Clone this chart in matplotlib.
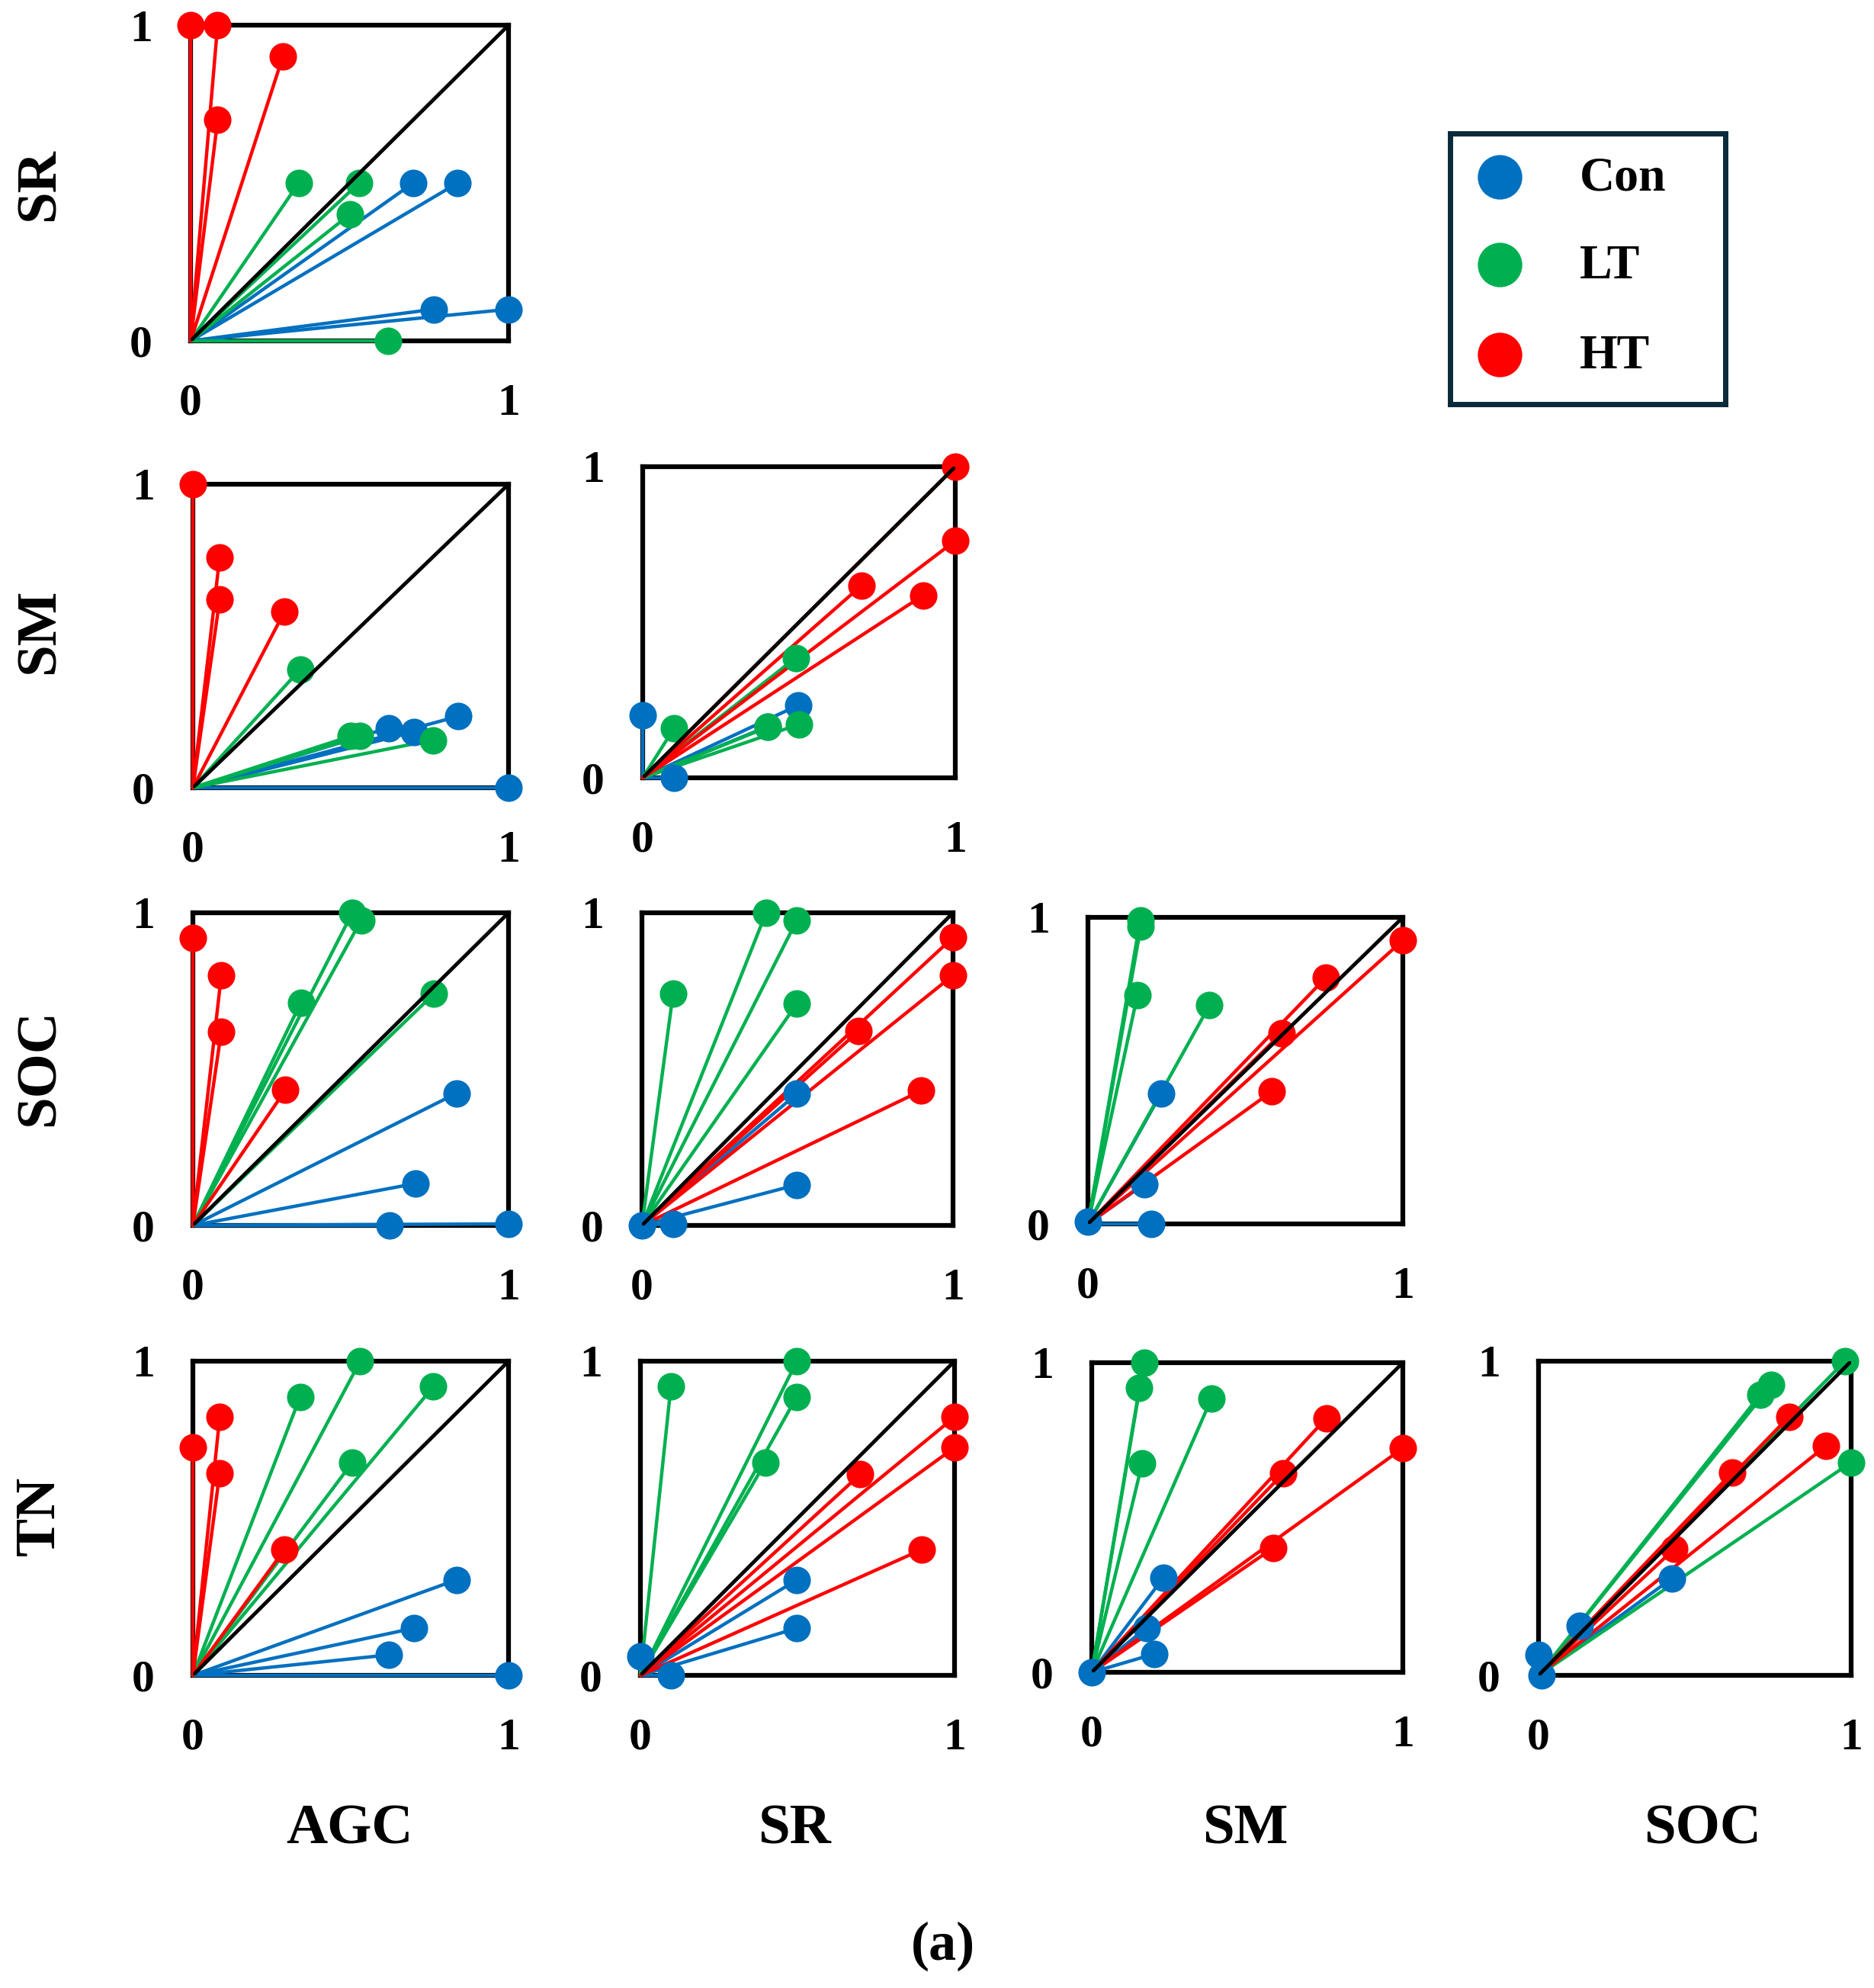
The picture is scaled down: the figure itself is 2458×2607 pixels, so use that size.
import matplotlib
matplotlib.use("Agg")
import matplotlib.pyplot as plt

# ---------------- data (x, y) per panel and treatment ----------------
variables = ["AGC", "SR", "SM", "SOC", "TN"]
treatments = ["Con", "LT", "HT"]
colors = {"Con": "#0070C0", "LT": "#00B050", "HT": "#FF0000"}

# SR vs AGC
sr_agc_con = [(0.70, 0.50), (0.84, 0.50), (0.765, 0.10), (1.0, 0.10)]
sr_agc_lt = [(0.34, 0.50), (0.53, 0.50), (0.50, 0.40), (0.62, 0.0)]
sr_agc_ht = [(0.0, 1.0), (0.085, 1.0), (0.085, 0.70), (0.29, 0.90)]

# SM vs AGC
sm_agc_con = [(0.62, 0.197), (0.70, 0.184), (0.84, 0.235), (1.0, 0.0)]
sm_agc_lt = [(0.34, 0.39), (0.50, 0.17), (0.53, 0.17), (0.76, 0.157)]
sm_agc_ht = [(0.0, 1.0), (0.085, 0.76), (0.085, 0.62), (0.29, 0.58)]

# SM vs SR
sm_sr_con = [(0.0, 0.20), (0.10, 0.0), (0.497, 0.233), (0.40, 0.165)]
sm_sr_lt = [(0.49, 0.386), (0.10, 0.159), (0.40, 0.163), (0.50, 0.172)]
sm_sr_ht = [(1.0, 1.0), (1.0, 0.762), (0.70, 0.618), (0.898, 0.587)]

# SOC vs AGC
soc_agc_con = [(0.836, 0.423), (0.705, 0.134), (0.622, 0.0), (1.0, 0.005)]
soc_agc_lt = [(0.505, 1.0), (0.533, 0.976), (0.342, 0.713), (0.764, 0.741)]
soc_agc_ht = [(0.0, 0.92), (0.09, 0.80), (0.09, 0.62), (0.293, 0.433)]

# SOC vs SR
soc_sr_con = [(0.498, 0.421), (0.498, 0.13), (0.0, 0.0), (0.10, 0.005)]
soc_sr_lt = [(0.10, 0.741), (0.399, 1.0), (0.498, 0.976), (0.498, 0.709)]
soc_sr_ht = [(1.0, 0.921), (1.0, 0.80), (0.697, 0.622), (0.898, 0.431)]

# SOC vs SM
soc_sm_con = [(0.232, 0.425), (0.178, 0.129), (0.0, 0.008), (0.20, 0.0)]
soc_sm_lt = [(0.166, 0.99), (0.168, 0.97), (0.157, 0.746), (0.386, 0.713)]
soc_sm_ht = [(1.0, 0.925), (0.756, 0.804), (0.614, 0.621), (0.584, 0.432)]

# TN vs AGC
tn_agc_con = [(0.835, 0.304), (0.70, 0.15), (0.62, 0.065), (1.0, 0.0)]
tn_agc_lt = [(0.34, 0.887), (0.53, 1.0), (0.504, 0.676), (0.762, 0.919)]
tn_agc_ht = [(0.0, 0.725), (0.085, 0.822), (0.085, 0.644), (0.29, 0.40)]

# TN vs SR
tn_sr_con = [(0.498, 0.304), (0.498, 0.15), (0.0, 0.06), (0.097, 0.0)]
tn_sr_lt = [(0.097, 0.919), (0.498, 1.0), (0.498, 0.887), (0.397, 0.676)]
tn_sr_ht = [(1.0, 0.822), (1.0, 0.725), (0.70, 0.64), (0.895, 0.40)]

# TN vs SM
tn_sm_con = [(0.23, 0.305), (0.176, 0.144), (0.20, 0.059), (0.0, 0.0)]
tn_sm_lt = [(0.168, 1.0), (0.153, 0.918), (0.162, 0.675), (0.385, 0.885)]
tn_sm_ht = [(0.754, 0.821), (0.615, 0.642), (1.0, 0.724), (0.584, 0.402)]

# TN vs SOC
tn_soc_con = [(0.426, 0.308), (0.131, 0.158), (0.0, 0.065), (0.01, 0.0)]
tn_soc_lt = [(0.98, 1.0), (0.745, 0.925), (0.709, 0.893), (1.0, 0.678)]
tn_soc_ht = [(0.802, 0.824), (0.919, 0.73), (0.62, 0.646), (0.434, 0.402)]

tick_values = [0, 1]
tick_labels = ["0", "1"]

# ---------------- layout ----------------
W, H = 2458, 2607
fig = plt.figure(figsize=(W / 100, H / 100), dpi=100)
fig.patch.set_facecolor("white")

FONT = "Liberation Serif"

panels = [
    # (row var, col var, con, lt, ht, (left, top, right, bottom) px)
    ("SR", "AGC", sr_agc_con, sr_agc_lt, sr_agc_ht, (250, 33, 667, 447)),
    ("SM", "AGC", sm_agc_con, sm_agc_lt, sm_agc_ht, (253, 635, 667, 1033)),
    ("SM", "SR", sm_sr_con, sm_sr_lt, sm_sr_ht, (843, 612, 1253, 1020)),
    ("SOC", "AGC", soc_agc_con, soc_agc_lt, soc_agc_ht, (253, 1197, 667, 1607)),
    ("SOC", "SR", soc_sr_con, soc_sr_lt, soc_sr_ht, (842, 1197, 1250, 1607)),
    ("SOC", "SM", soc_sm_con, soc_sm_lt, soc_sm_ht, (1427, 1203, 1840, 1605)),
    ("TN", "AGC", tn_agc_con, tn_agc_lt, tn_agc_ht, (253, 1785, 667, 2197)),
    ("TN", "SR", tn_sr_con, tn_sr_lt, tn_sr_ht, (840, 1785, 1252, 2197)),
    ("TN", "SM", tn_sm_con, tn_sm_lt, tn_sm_ht, (1432, 1787, 1840, 2193)),
    ("TN", "SOC", tn_soc_con, tn_soc_lt, tn_soc_ht, (2018, 1785, 2428, 2197)),
]

for rv, cv, con, lt, ht, (l, t, r, b) in panels:
    ax = fig.add_axes([l / W, 1 - b / H, (r - l) / W, (b - t) / H])
    ax.set_xlim(0, 1)
    ax.set_ylim(0, 1)
    for s in ax.spines.values():
        s.set_linewidth(4.5)
        s.set_color("black")
        s.set_zorder(1)
    for name, pts in (("Con", con), ("LT", lt), ("HT", ht)):
        for x, y in pts:
            ax.plot([0, x], [0, y], color=colors[name], lw=3.2,
                    solid_capstyle="round", zorder=2, clip_on=False)
    for name, pts in (("Con", con), ("LT", lt), ("HT", ht)):
        xs = [p[0] for p in pts]
        ys = [p[1] for p in pts]
        ax.plot(xs, ys, linestyle="none", marker="o", ms=26,
                color=colors[name], mec="none", zorder=3, clip_on=False)
    ax.plot([0, 1], [0, 1], color="black", lw=3.5, zorder=4)
    ax.set_xticks(tick_values)
    ax.set_xticklabels(tick_labels)
    ax.set_yticks(tick_values)
    ax.set_yticklabels(tick_labels)
    ax.tick_params(length=0, labelsize=43, pad=36)
    ax.tick_params(axis="x", pad=40)
    for lab in ax.get_xticklabels() + ax.get_yticklabels():
        lab.set_fontfamily(FONT)
        lab.set_fontweight("bold")

# row labels
row_label_pos = {"SR": 242, "SM": 828, "SOC": 1400, "TN": 1988}
for name, y in row_label_pos.items():
    fig.text(53 / W, 1 - y / H, name, rotation=90, ha="center", va="center",
             fontsize=54, fontweight="bold", fontfamily=FONT)

# column labels
col_label_pos = {"AGC": 458, "SR": 1042, "SM": 1633, "SOC": 2233}
for name, x in col_label_pos.items():
    fig.text(x / W, 1 - 2400 / H, name, ha="center", va="center",
             fontsize=54, fontweight="bold", fontfamily=FONT)

fig.text(1237 / W, 1 - 2552 / H, "(a)", ha="center", va="center",
         fontsize=52, fontweight="bold", fontfamily=FONT)

# legend box
lx0, ly0, lx1, ly1 = 1902, 175, 2263, 530
lax = fig.add_axes([lx0 / W, 1 - ly1 / H, (lx1 - lx0) / W, (ly1 - ly0) / H])
lax.set_xlim(0, lx1 - lx0)
lax.set_ylim(ly1 - ly0, 0)
lax.set_xticks([])
lax.set_yticks([])
for s in lax.spines.values():
    s.set_linewidth(5)
    s.set_color("#0B2A3B")
leg_y = [57, 172, 290]
for name, yy in zip(treatments, leg_y):
    lax.plot([65], [yy], marker="o", ms=42, color=colors[name], mec="none",
             linestyle="none")
    lax.text(170, yy + 3, name, ha="left", va="center", fontsize=46,
             fontweight="bold", fontfamily=FONT)

fig.savefig("out.png", dpi=100, facecolor="white")
